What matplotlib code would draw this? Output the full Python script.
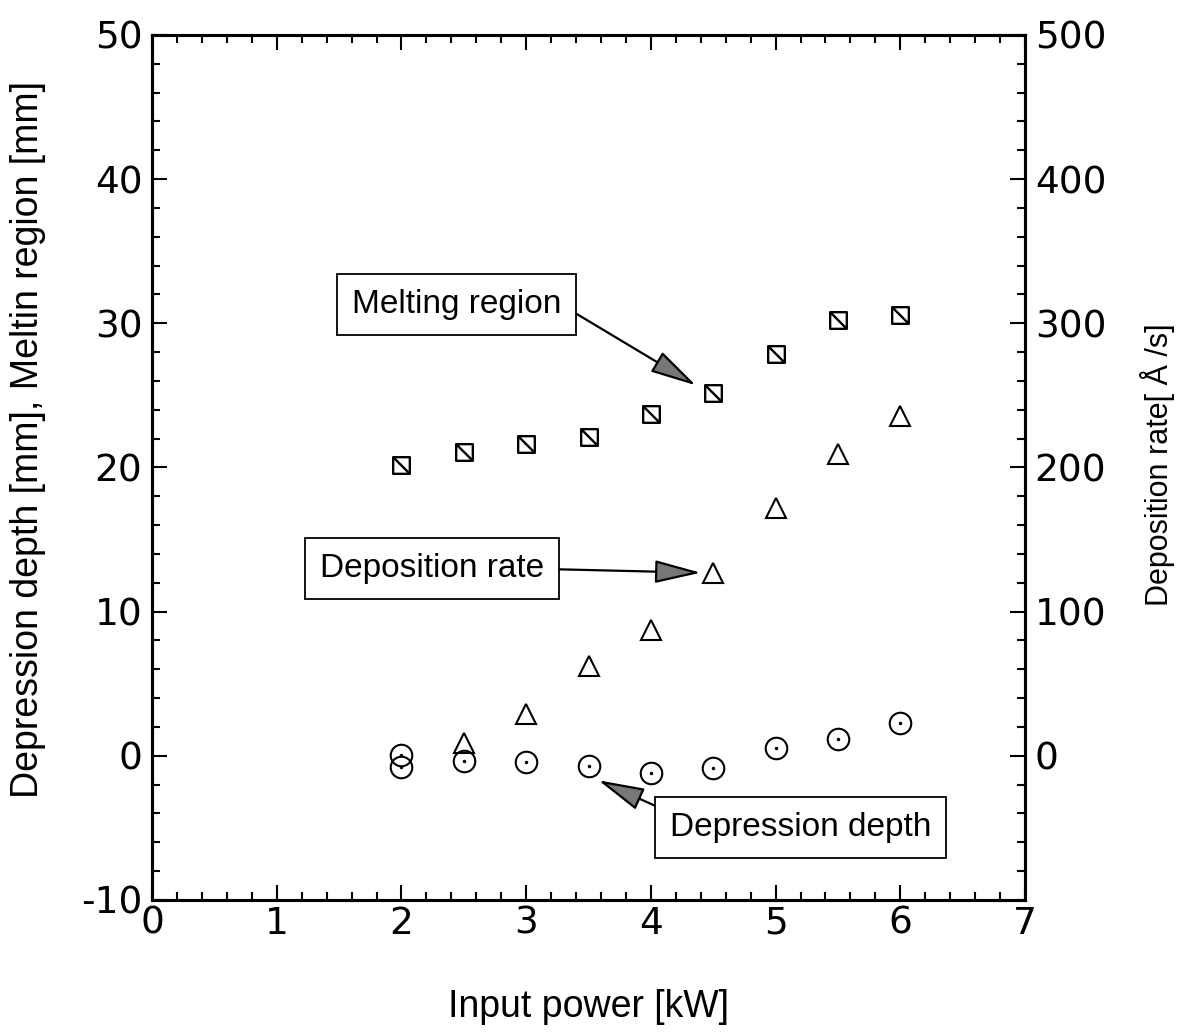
import matplotlib.pyplot as plt
from matplotlib.path import Path
from matplotlib.ticker import MultipleLocator
from matplotlib import font_manager

# data
power_melt = [2.0, 2.5, 3.0, 3.5, 4.0, 4.5, 5.0, 5.5, 6.0]
melt_region = [20.2, 21.1, 21.6, 22.1, 23.7, 25.2, 27.9, 30.2, 30.6]

power_rate = [2.5, 3.0, 3.5, 4.0, 4.5, 5.0, 5.5, 6.0]
dep_rate = [9, 29, 62, 87, 127, 172, 209, 236]

power_depth = [2.0, 2.0, 2.5, 3.0, 3.5, 4.0, 4.5, 5.0, 5.5, 6.0]
depth = [0.05, -0.8, -0.34, -0.45, -0.73, -1.2, -0.85, 0.52, 1.14, 2.25]

plt.rcParams['font.family'] = ['Liberation Sans', 'DejaVu Sans']
plt.rcParams['axes.unicode_minus'] = False

# narrow face for the right label, if it is there
try:
    font_manager.findfont(font_manager.FontProperties(family='Liberation Sans Narrow'),
                          fallback_to_default=False)
    right_font, right_size = 'Liberation Sans Narrow', 27
except ValueError:
    right_font, right_size = 'Liberation Sans', 22

fig = plt.figure(figsize=(11.88, 10.34), dpi=100)
ax = fig.add_axes([0.128, 0.1296, 0.7348, 0.8366])
ax2 = ax.twinx()

# square with a diagonal
sq = Path([(-1, -1), (1, -1), (1, 1), (-1, 1), (-1, -1), (-1, 1), (1, -1)],
          [Path.MOVETO, Path.LINETO, Path.LINETO, Path.LINETO, Path.CLOSEPOLY,
           Path.MOVETO, Path.LINETO])

ax.plot(power_melt, melt_region, ls='none', marker=sq, ms=12, mfc='none',
        mec='black', mew=1.7)
ax.plot(power_depth, depth, ls='none', marker='o', ms=15.5, mfc='none',
        mec='black', mew=1.5)
ax.plot(power_depth, depth, ls='none', marker='o', ms=1.5, mfc='black',
        mec='black')
ax2.plot(power_rate, dep_rate, ls='none', marker='^', ms=15, mfc='none',
         mec='black', mew=1.5)

ax.set_xlim(0, 7)
ax.set_ylim(-10, 50)
ax2.set_ylim(-100, 500)
ax2.set_yticks([0, 100, 200, 300, 400, 500])

ax.xaxis.set_major_locator(MultipleLocator(1))
ax.xaxis.set_minor_locator(MultipleLocator(0.2))
ax.yaxis.set_major_locator(MultipleLocator(10))
ax.yaxis.set_minor_locator(MultipleLocator(2))
ax2.yaxis.set_minor_locator(MultipleLocator(20))

ax.tick_params(which='both', direction='in', top=True, right=False,
               width=1.5, labelsize=27, pad=7)
ax.tick_params(axis='x', pad=4)
ax.tick_params(which='major', length=11)
ax.tick_params(which='minor', length=6)
ax2.tick_params(which='both', direction='in', width=1.5, labelsize=27, pad=7)
ax2.tick_params(which='major', length=11)
ax2.tick_params(which='minor', length=6)
for a in (ax, ax2):
    for s in a.spines.values():
        s.set_linewidth(2.2)
    for lab in a.get_xticklabels() + a.get_yticklabels():
        lab.set_family('DejaVu Sans')

ax.set_xlabel('Input power [kW]', fontsize=27, labelpad=34)
ax.set_ylabel('Depression depth [mm], Meltin region [mm]', fontsize=27)
ax.yaxis.set_label_coords(-0.122, 0.532)
ax2.set_ylabel('Deposition rate[ Å /s]', family=right_font,
               fontsize=right_size)
ax2.yaxis.set_label_coords(1.132, 0.503)

box = dict(boxstyle='square,pad=0.45', fc='white', ec='black', lw=1.3)
arrow = dict(arrowstyle='-|>,head_length=1.2,head_width=0.3',
             fc='#777777', ec='black', lw=1.6, shrinkA=0, shrinkB=0)

ax.annotate('Melting region', xy=(4.36, 25.7), xytext=(2.44, 31.3),
            fontsize=24, ha='center', va='center', bbox=box,
            arrowprops=dict(arrow, relpos=(1, 0.5)))
ax.annotate('Deposition rate', xy=(4.4, 12.7), xytext=(2.245, 12.96),
            fontsize=24, ha='center', va='center', bbox=box,
            arrowprops=dict(arrow, relpos=(1, 0.5)))
ax.annotate('Depression depth', xy=(3.58, -1.7), xytext=(5.2, -5.0),
            fontsize=24, ha='center', va='center', bbox=box,
            arrowprops=dict(arrow, relpos=(0, 1)))

fig.savefig('out.png', dpi=100)
